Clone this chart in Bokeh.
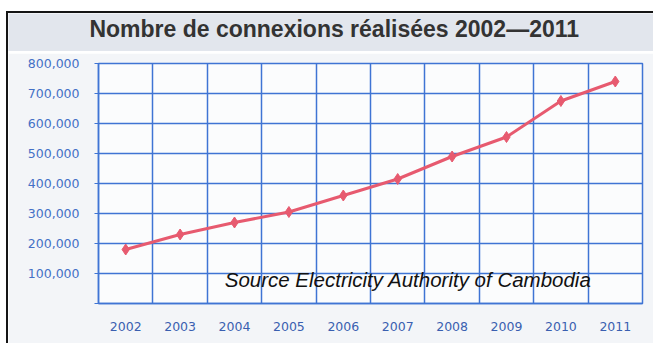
from bokeh.plotting import figure
from bokeh.models import FixedTicker, Label, NumeralTickFormatter, Range1d
from bokeh.layouts import column
from bokeh.embed import file_html
from bokeh.resources import INLINE

years = [2002, 2003, 2004, 2005, 2006, 2007, 2008, 2009, 2010, 2011]
connexions = [180000, 230000, 270000, 305000, 360000, 415000, 490000, 555000, 675000, 740000]
y_ticks = [0, 100000, 200000, 300000, 400000, 500000, 600000, 700000, 800000]
title_text = "Nombre de connexions réalisées 2002\u20142011"
source_text = "Source Electricity Authority of Cambodia"

BLUE = "#3f74d4"
LABEL_BLUE = "#4470c6"
LINE = "#e75a6f"
BAND = "#e2e6ed"

# title band
t = figure(width=645, height=38, output_backend="svg", toolbar_location=None,
           x_range=Range1d(0, 1), y_range=Range1d(0, 1),
           min_border=0, frame_align=False,
           background_fill_color=BAND, border_fill_color=BAND,
           outline_line_color=None)
t.axis.visible = False
t.grid.visible = False
t.add_layout(Label(x=0.505, y=0.6, text=title_text, text_align="center", text_baseline="middle",
                   text_font="Liberation Sans", text_font_style="bold", text_font_size="23px",
                   text_color="#333333"))

p = figure(width=645, height=292, output_backend="svg", toolbar_location=None,
           x_range=Range1d(years[0] - 0.5, years[-1] + 0.5),
           y_range=Range1d(0, 800000), frame_align=False,
           min_border_left=90, min_border_right=11, min_border_top=10, min_border_bottom=42,
           background_fill_color="#fbfcfd", border_fill_color="#f3f5f8",
           outline_line_color=BLUE, outline_line_width=1.5)

p.line(years, connexions, line_color=LINE, line_width=3)
p.scatter(years, connexions, marker="diamond", size=11, fill_color=LINE, line_color=LINE)

p.xaxis.ticker = FixedTicker(ticks=years)
p.yaxis.ticker = FixedTicker(ticks=y_ticks)
p.yaxis.formatter = NumeralTickFormatter(format="0,0")
p.yaxis.major_label_overrides = {0: ""}
for ax in (p.xaxis[0], p.yaxis[0]):
    ax.axis_line_color = BLUE
    ax.axis_line_width = 1.5
    ax.major_tick_line_color = BLUE
    ax.minor_tick_line_color = None
    ax.major_label_text_color = LABEL_BLUE
    ax.major_label_text_font = "DejaVu Sans"
    ax.major_label_text_font_size = "12.5px"
p.xaxis.major_tick_line_color = None
p.xaxis.major_label_standoff = 12
p.xaxis.major_label_text_color = "#3a5fb0"
p.yaxis.major_tick_in = 4
p.yaxis.major_tick_out = 4
p.yaxis.major_label_standoff = 15

p.xgrid.ticker = FixedTicker(ticks=[y + 0.5 for y in years[:-1]])
p.xgrid.grid_line_color = BLUE
p.xgrid.grid_line_width = 1.5
p.ygrid.grid_line_color = BLUE
p.ygrid.grid_line_width = 1.5

p.add_layout(Label(x=2003.82, y=80000, text=source_text, text_font="Liberation Sans",
                   text_font_style="italic", text_font_size="20.5px", text_color="#111111",
                   text_baseline="alphabetic"))

layout = column(t, p, spacing=2, margin=(11, 3, 0, 6),
                styles={"border-left": "2px solid #151515", "border-top": "2px solid #151515",
                        "background-color": "#ffffff"})

open("out.html", "w").write(file_html(layout, INLINE))
